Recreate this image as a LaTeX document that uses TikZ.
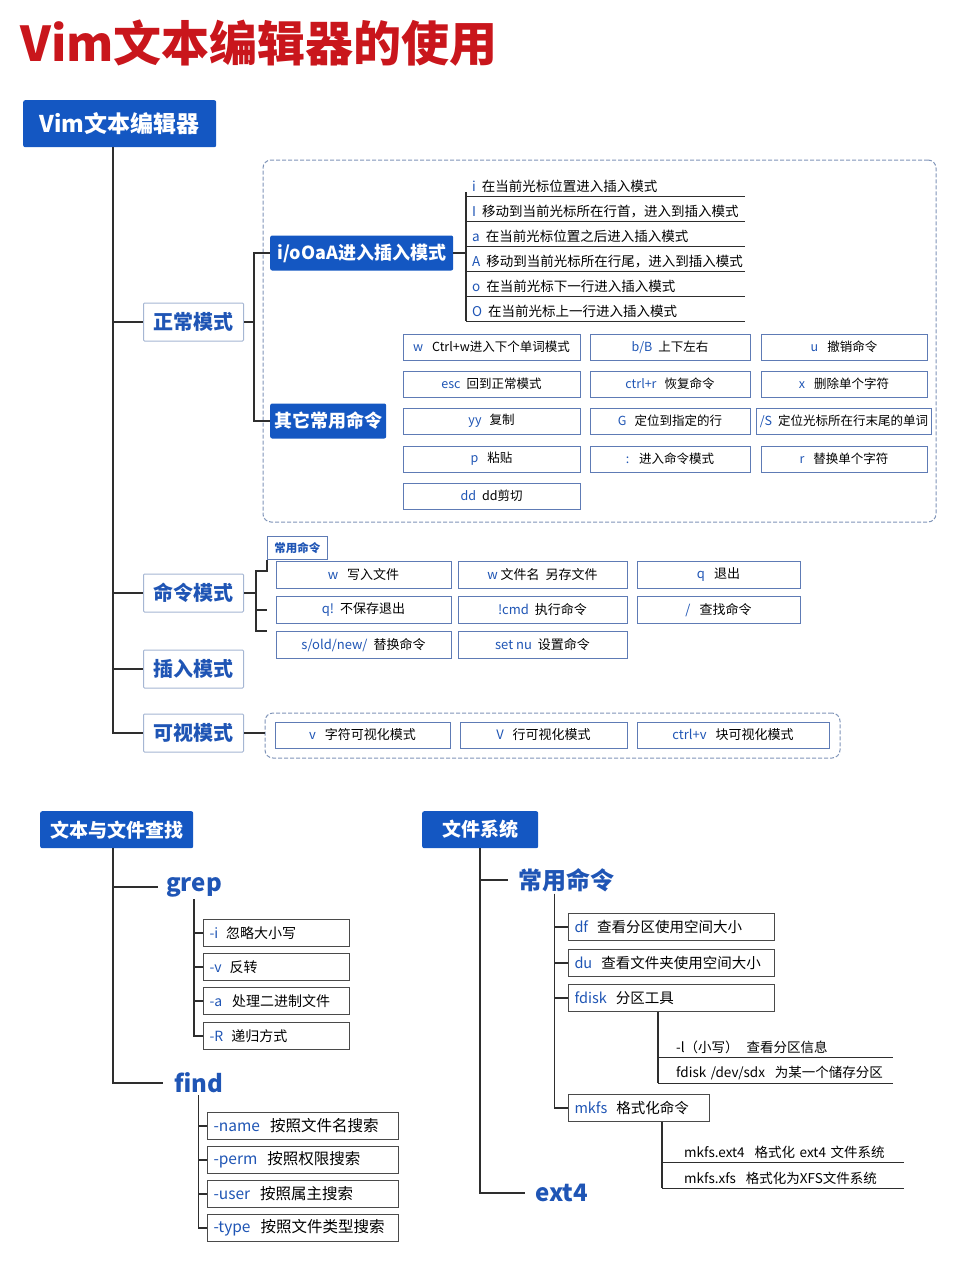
\documentclass[tikz,border=0pt]{standalone}
\usepackage{fontspec}
\setmainfont{Noto Sans CJK SC}
\usetikzlibrary{fit}

\definecolor{titlered}{HTML}{C9161C}
\definecolor{headblue}{HTML}{1457C2}
\definecolor{keyblue}{HTML}{1F55B5}
\definecolor{modeline}{HTML}{A5B6D3}
\definecolor{gridline}{HTML}{5E7BB5}
\definecolor{dashline}{HTML}{7F94B8}
\definecolor{leafline}{HTML}{4A4A4A}
\definecolor{connline}{HTML}{2E2E2E}

\newcommand\fsz[1]{\fontsize{#1}{#1}\selectfont}
\newcommand\ckey[1]{\textcolor{keyblue}{#1}}

\begin{document}
\begin{tikzpicture}[
  x=1pt, y=-1pt,
  conn/.style={draw=connline, line width=2pt},
  conn2/.style={draw=connline, line width=1.5pt},
  conn3/.style={draw=connline, line width=1.2pt},
  uline/.style={draw=connline, line width=1pt},
  head/.style={
    fill=headblue,
    text=white,
    font=\bfseries\fsz{19},
    rounded corners=2pt,
    anchor=north west,
    inner sep=0pt,
  },
  subhead/.style={
    fill=headblue,
    text=white,
    font=\bfseries\fsz{18},
    rounded corners=2pt,
    anchor=west,
    minimum height=35pt,
    inner sep=0pt,
  },
  mode/.style={
    draw=modeline,
    fill=white,
    text=keyblue,
    font=\bfseries\fsz{20},
    minimum width=100pt,
    minimum height=38pt,
    anchor=west,
    line width=1pt,
    rounded corners=1pt,
  },
  dashbox/.style={
    draw=dashline,
    dash pattern=on 4pt off 2pt,
    rounded corners=8pt,
    inner sep=0pt,
    line width=1pt,
  },
  gridbox/.style={
    draw=gridline,
    fill=white,
    font=\fsz{12.5},
    minimum height=26pt,
    line width=0.8pt,
  },
  tabbox/.style={
    draw=gridline,
    fill=white,
    text=keyblue,
    font=\bfseries\fsz{11.5},
    anchor=south west,
    minimum width=60pt,
    minimum height=23pt,
    inner sep=0pt,
    line width=0.8pt,
  },
  listitem/.style={
    anchor=south west,
    font=\fsz{13.5},
    inner xsep=6pt,
    inner ysep=3pt,
    text width=#1,
    align=left,
  },
  branch/.style={
    text=keyblue,
    font=\bfseries\fsz{24},
    anchor=west,
    inner xsep=8pt,
    inner ysep=2pt,
  },
  leafbox/.style={
    draw=leafline,
    fill=white,
    anchor=west,
    minimum height=27pt,
    inner xsep=6pt,
    text width=#1,
    align=left,
    font=\fsz{14},
    line width=1pt,
  },
]
\useasboundingbox (0,0) rectangle (960,1280);

% Title
\node[anchor=west, text=titlered, font=\bfseries\fsz{48}, inner sep=0pt] (title) at (20,43) {Vim文本编辑器的使用};

% Root node
\node[head, minimum width=193pt, minimum height=47pt, font=\bfseries\fsz{23}] (vim) at (23,100) {Vim文本编辑器};

\node[mode] (normal) at (143,322) {正常模式};
\node[mode] (cmdm) at (143,593) {命令模式};
\node[mode] (insm) at (143,669) {插入模式};
\node[mode] (vism) at (143,733) {可视模式};

\coordinate (trunk) at ([xshift=-6.5pt]vim.south);
\draw[conn] (trunk) |- (normal.west);
\draw[conn] (trunk) |- (cmdm.west);
\draw[conn] (trunk) |- (insm.west);
\draw[conn] (trunk) |- (vism.west);

% Normal mode
\node[dashbox, fit={(263,160) (936,522)}] (normalgrp) {};
\node[subhead, minimum width=183pt] (ioa) at (270,253) {i/oOaA进入插入模式};
\node[subhead, minimum width=116pt] (other) at (270,421) {其它常用命令};
\draw[conn2] (normal.east) -- ++(10,0) coordinate (nb);
\draw[conn2] (nb) |- (ioa.west);
\draw[conn2] (nb) |- (other.west);

\node[listitem=267pt] (i1) at (466,196) {\ckey{i}\hspace{6pt}在当前光标位置进入插入模式};
\node[listitem=267pt] (i2) at (466,221) {\ckey{I}\hspace{6pt}移动到当前光标所在行首，进入到插入模式};
\node[listitem=267pt] (i3) at (466,246) {\ckey{a}\hspace{6pt}在当前光标位置之后进入插入模式};
\node[listitem=267pt] (i4) at (466,271) {\ckey{A}\hspace{6pt}移动到当前光标所在行尾，进入到插入模式};
\node[listitem=267pt] (i5) at (466,296) {\ckey{o}\hspace{6pt}在当前光标下一行进入插入模式};
\node[listitem=267pt] (i6) at (466,321) {\ckey{O}\hspace{6pt}在当前光标上一行进入插入模式};
\draw[uline] (i1.south west) -- (i1.south east);
\draw[uline] (i2.south west) -- (i2.south east);
\draw[uline] (i3.south west) -- (i3.south east);
\draw[uline] (i4.south west) -- (i4.south east);
\draw[uline] (i5.south west) -- (i5.south east);
\draw[uline] (i6.south west) -- (i6.south east);
\draw[conn3] ([yshift=4pt]i1.south west) -- (i6.south west);
\draw[conn3] (ioa.east) -- (ioa.east -| i1.south west);

% Other commands
\node[gridbox, minimum width=177pt] (o11) at (491.5,347) {\ckey{w}\hspace{9pt}Ctrl+w进入下个单词模式};
\node[gridbox, minimum width=160pt] (o12) at (670,347) {\ckey{b/B}\hspace{6pt}上下左右};
\node[gridbox, minimum width=166pt] (o13) at (844,347) {\ckey{u}\hspace{9pt}撤销命令};
\node[gridbox, minimum width=177pt] (o21) at (491.5,384) {\ckey{esc}\hspace{6pt}回到正常模式};
\node[gridbox, minimum width=160pt] (o22) at (670,384) {\ckey{ctrl+r}\hspace{8pt}恢复命令};
\node[gridbox, minimum width=166pt] (o23) at (844,384) {\ckey{x}\hspace{9pt}删除单个字符};
\node[gridbox, minimum width=177pt] (o31) at (491.5,421) {\ckey{yy}\hspace{8pt}复制};
\node[gridbox, minimum width=160pt] (o32) at (670,421) {\ckey{G}\hspace{8pt}定位到指定的行};
\node[gridbox, minimum width=166pt] (o33) at (844,421) {\ckey{/S}\hspace{6pt}定位光标所在行末尾的单词};
\node[gridbox, minimum width=177pt] (o41) at (491.5,459) {\ckey{p}\hspace{9pt}粘贴};
\node[gridbox, minimum width=160pt] (o42) at (670,459) {\ckey{:}\hspace{10pt}进入命令模式};
\node[gridbox, minimum width=166pt] (o43) at (844,459) {\ckey{r}\hspace{9pt}替换单个字符};
\node[gridbox, minimum width=177pt] (o51) at (491.5,496) {\ckey{dd}\hspace{6pt}dd剪切};

% Command mode
\node[tabbox] (tab) at (267,560) {常用命令};
\node[gridbox, font=\fsz{13}, minimum width=175pt, minimum height=27pt] (c11) at (363.5,575) {\ckey{w}\hspace{9pt}写入文件};
\node[gridbox, font=\fsz{13}, minimum width=169pt, minimum height=27pt] (c12) at (542.5,575) {\ckey{w}\hspace{3pt}文件名\hspace{6pt}另存文件};
\node[gridbox, font=\fsz{13}, minimum width=163pt, minimum height=27pt] (c13) at (718.5,575) {\ckey{q}\hspace{9pt}退出};
\node[gridbox, font=\fsz{13}, minimum width=175pt, minimum height=27pt] (c21) at (363.5,610) {\ckey{q!}\hspace{6pt}不保存退出};
\node[gridbox, font=\fsz{13}, minimum width=169pt, minimum height=27pt] (c22) at (542.5,610) {\ckey{!cmd}\hspace{6pt}执行命令};
\node[gridbox, font=\fsz{13}, minimum width=163pt, minimum height=27pt] (c23) at (718.5,610) {\ckey{/}\hspace{9pt}查找命令};
\node[gridbox, font=\fsz{13}, minimum width=175pt, minimum height=27pt] (c31) at (363.5,645) {\ckey{s/old/new/}\hspace{6pt}替换命令};
\node[gridbox, font=\fsz{13}, minimum width=169pt, minimum height=27pt] (c32) at (542.5,645) {\ckey{set nu}\hspace{6pt}设置命令};
\draw[conn2] (cmdm.east) -- ++(12,0) coordinate (cb);
\draw[conn2] (tab.south west) -- ++(0,11) -| (cb);
\draw[conn2] (cb) |- ([xshift=-9pt]c21.west);
\draw[conn2] (cb) |- ([xshift=-9pt]c31.north west);

% Visual mode
\node[dashbox, fit={(265,713) (840,758)}] (visgrp) {};
\node[gridbox, font=\fsz{13}, minimum width=175pt] (v1) at (362.5,735) {\ckey{v}\hspace{9pt}字符可视化模式};
\node[gridbox, font=\fsz{13}, minimum width=167pt] (v2) at (543.5,735) {\ckey{V}\hspace{9pt}行可视化模式};
\node[gridbox, font=\fsz{13}, minimum width=192pt] (v3) at (733,735) {\ckey{ctrl+v}\hspace{9pt}块可视化模式};
\draw[conn2] (vism.east) -- (vism.east -| visgrp.west);

% Text and file search
\node[head, minimum width=153pt, minimum height=37pt] (search) at (40,811) {文本与文件查找};
\node[branch] (grep) at (158,887) {grep};
\node[branch, inner xsep=11pt] (find) at (163,1083) {find};
\coordinate (st) at ([xshift=-3.5pt]search.south);
\draw[conn] (st) |- (grep.west);
\draw[conn] (st) |- (find.west);

\node[leafbox=134pt] (g1) at (203,933) {\ckey{-i}\hspace{8pt}忽略大小写};
\node[leafbox=134pt] (g2) at (203,967) {\ckey{-v}\hspace{8pt}反转};
\node[leafbox=134pt] (g3) at (203,1001) {\ckey{-a}\hspace{10pt}处理二进制文件};
\node[leafbox=134pt] (g4) at (203,1036) {\ckey{-R}\hspace{8pt}递归方式};
\draw[conn3] (grep.south) |- (g1.west);
\draw[conn3] (grep.south) |- (g2.west);
\draw[conn3] (grep.south) |- (g3.west);
\draw[conn3] (grep.south) |- (g4.west);

\node[leafbox=179pt, font=\fsz{15.5}] (f1) at (207,1126) {\ckey{-name}\hspace{10pt}按照文件名搜索};
\node[leafbox=179pt, font=\fsz{15.5}] (f2) at (207,1160) {\ckey{-perm}\hspace{10pt}按照权限搜索};
\node[leafbox=179pt, font=\fsz{15.5}] (f3) at (207,1194) {\ckey{-user}\hspace{10pt}按照属主搜索};
\node[leafbox=179pt, font=\fsz{15.5}] (f4) at (207,1228) {\ckey{-type}\hspace{10pt}按照文件类型搜索};
\draw[conn3] (find.south) |- (f1.west);
\draw[conn3] (find.south) |- (f2.west);
\draw[conn3] (find.south) |- (f3.west);
\draw[conn3] (find.south) |- (f4.west);

% File system
\node[head, minimum width=116pt, minimum height=37pt] (fs) at (422,811) {文件系统};
\node[branch, inner xsep=10pt] (fcmd) at (508,880) {常用命令};
\node[branch, inner xsep=10pt] (ext) at (525,1193) {ext4};
\draw[conn] (fs.south) |- (fcmd.west);
\draw[conn] (fs.south) |- (ext.west);

\node[leafbox=194pt, font=\fsz{14.5}] (d1) at (568,927) {\ckey{df}\hspace{9pt}查看分区使用空间大小};
\node[leafbox=194pt, font=\fsz{14.5}] (d2) at (568,963) {\ckey{du}\hspace{9pt}查看文件夹使用空间大小};
\node[leafbox=194pt, font=\fsz{14.5}] (d3) at (568,998) {\ckey{fdisk}\hspace{9pt}分区工具};
\node[leafbox=129pt, font=\fsz{14.5}] (d4) at (568,1108) {\ckey{mkfs}\hspace{9pt}格式化命令};
\coordinate (fc) at ([xshift=-12pt]fcmd.south);
\draw[conn3] (fc) |- (d1.west);
\draw[conn3] (fc) |- (d2.west);
\draw[conn3] (fc) |- (d3.west);
\draw[conn3] (fc) |- (d4.west);

\node[listitem=223pt] (s1) at (658,1057) {\hspace*{12pt}-l（小写）\hspace{8pt}查看分区信息};
\node[listitem=223pt] (s2) at (658,1083) {\hspace*{12pt}fdisk /dev/sdx\hspace{10pt}为某一个储存分区};
\draw[uline] (s1.south west) -- (s1.south east);
\draw[uline] (s2.south west) -- (s2.south east);
\draw[conn3] (d3.south -| s2.south west) -- (s2.south west);

\node[listitem=230pt] (m1) at (662,1162) {\hspace*{16pt}mkfs.ext4\hspace{10pt}格式化 ext4 文件系统};
\node[listitem=230pt] (m2) at (662,1188) {\hspace*{16pt}mkfs.xfs\hspace{10pt}格式化为XFS文件系统};
\draw[uline] (m1.south west) -- (m1.south east);
\draw[uline] (m2.south west) -- (m2.south east);
\draw[conn3] (d4.south -| m2.south west) -- (m2.south west);

\end{tikzpicture}
\end{document}
